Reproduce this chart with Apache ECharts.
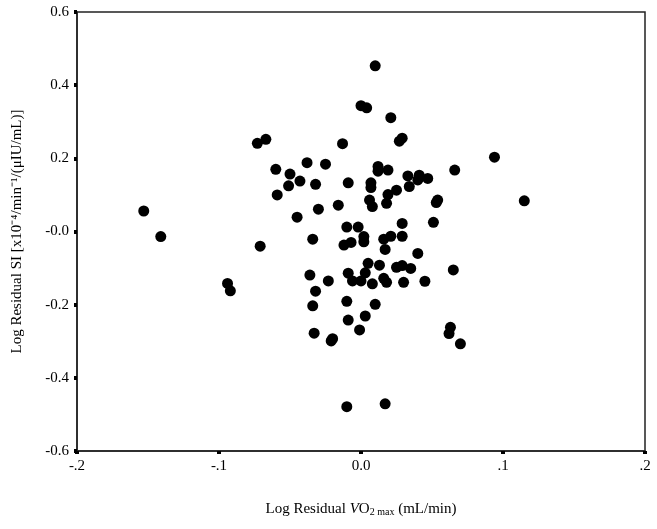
<!DOCTYPE html>
<html>
<head>
<meta charset="utf-8">
<script src="https://cdn.jsdelivr.net/npm/echarts@6/dist/echarts.min.js"></script>
<style>
html,body{margin:0;padding:0;background:#fff;}
#chart{width:657px;height:529px;}
</style>
</head>
<body>
<div id="chart"></div>
<script>
// Log residual VO2max (x) values
const xValues = [
  -0.153, -0.141, -0.073, -0.067, -0.060, -0.059, -0.071, -0.094, -0.092,
  0.010, 0.000, 0.004, 0.021, 0.027, 0.029, -0.013, -0.038, -0.025,
  -0.050, -0.043, -0.051, -0.032, 0.012, 0.012, 0.019, 0.033, 0.041,
  0.040, 0.047, 0.066, -0.009, 0.007, 0.007, 0.034, 0.025, 0.019,
  0.006, 0.008, 0.018, 0.054, 0.053, -0.030, -0.016, -0.045, 0.029,
  0.051, -0.010, -0.002, -0.034, 0.002, 0.002, -0.012, -0.007, 0.016,
  0.021, 0.029, 0.017, 0.040, 0.005, 0.013, 0.025, 0.029, 0.035,
  0.065, -0.036, -0.023, -0.009, -0.006, 0.000, 0.003, 0.008, 0.016,
  0.018, 0.030, 0.045, -0.032, -0.034, -0.010, 0.010, -0.009, 0.003,
  -0.001, -0.033, -0.021, -0.020, 0.063, 0.062, 0.070, -0.010, 0.017,
  0.094, 0.115
];
// Log residual SI (y) values
const yValues = [
  0.056, -0.014, 0.241, 0.252, 0.170, 0.100, -0.040, -0.142, -0.162,
  0.453, 0.344, 0.338, 0.311, 0.247, 0.255, 0.240, 0.188, 0.184,
  0.157, 0.138, 0.125, 0.129, 0.178, 0.165, 0.168, 0.152, 0.154,
  0.141, 0.145, 0.168, 0.133, 0.133, 0.120, 0.123, 0.113, 0.101,
  0.086, 0.068, 0.077, 0.086, 0.079, 0.061, 0.072, 0.039, 0.022,
  0.025, 0.012, 0.012, -0.021, -0.014, -0.028, -0.037, -0.030, -0.021,
  -0.013, -0.013, -0.049, -0.060, -0.087, -0.092, -0.098, -0.093, -0.101,
  -0.105, -0.119, -0.135, -0.114, -0.135, -0.135, -0.113, -0.143, -0.128,
  -0.139, -0.139, -0.136, -0.163, -0.203, -0.191, -0.199, -0.242, -0.231,
  -0.269, -0.278, -0.299, -0.293, -0.262, -0.279, -0.307, -0.479, -0.471,
  0.203, 0.084
];
const xTickValues = [-0.2, -0.1, 0.0, 0.1, 0.2];
const xTickLabels = ['-.2', '-.1', '0.0', '.1', '.2'];
const yTickValues = [-0.6, -0.4, -0.2, 0.0, 0.2, 0.4, 0.6];
const yTickLabels = ['-0.6', '-0.4', '-0.2', '-0.0', '0.2', '0.4', '0.6'];

function labelFor(values, labels, v) {
  for (let i = 0; i < values.length; i++) {
    if (Math.abs(values[i] - v) < 1e-6) return labels[i];
  }
  return '';
}

const points = xValues.map((x, i) => [x, yValues[i]]);
const serif = '"Liberation Serif", "Times New Roman", serif';

const chart = echarts.init(document.getElementById('chart'));
chart.setOption({
  animation: false,
  backgroundColor: '#fff',
  grid: {
    left: 77, right: 12, top: 12, bottom: 78,
    show: true, borderColor: '#222', borderWidth: 1.5, backgroundColor: 'transparent'
  },
  xAxis: {
    type: 'value', min: -0.2, max: 0.2, interval: 0.1,
    splitLine: { show: false },
    axisLine: { show: true, onZero: false, lineStyle: { color: '#222', width: 1.5 } },
    axisTick: { show: true, length: 3, lineStyle: { color: '#000', width: 4 } },
    axisLabel: {
      color: '#000', fontFamily: serif, fontSize: 15, margin: 8,
      formatter: v => labelFor(xTickValues, xTickLabels, v)
    },
    name: '{a|Log Residual }{i|V}{b|O}{s|2 max}{a| (mL/min)}',
    nameLocation: 'middle', nameGap: 50,
    nameTextStyle: {
      rich: {
        a: { fontFamily: serif, fontSize: 15, color: '#000' },
        b: { fontFamily: serif, fontSize: 15, color: '#000' },
        i: { fontFamily: serif, fontSize: 15, color: '#000', fontStyle: 'italic' },
        s: { fontFamily: serif, fontSize: 10, color: '#000', padding: [6, 0, 0, 0] }
      }
    }
  },
  yAxis: {
    type: 'value', min: -0.6, max: 0.6, interval: 0.2,
    splitLine: { show: false },
    axisLine: { show: true, onZero: false, lineStyle: { color: '#222', width: 1.5 } },
    axisTick: { show: true, length: 3, lineStyle: { color: '#000', width: 4 } },
    axisLabel: {
      color: '#000', fontFamily: serif, fontSize: 15, margin: 8,
      formatter: v => labelFor(yTickValues, yTickLabels, v)
    },
    name: 'Log Residual SI [x10\u207B\u2074/min\u207B\u00B9/(\u03BCIU/mL)]',
    nameLocation: 'middle', nameGap: 52, nameRotate: 90,
    nameTextStyle: { fontFamily: serif, fontSize: 15, color: '#000' }
  },
  series: [{
    type: 'scatter',
    data: points,
    symbol: 'circle',
    symbolSize: 11,
    itemStyle: { color: '#000', opacity: 1 }
  }]
});
</script>
</body>
</html>
